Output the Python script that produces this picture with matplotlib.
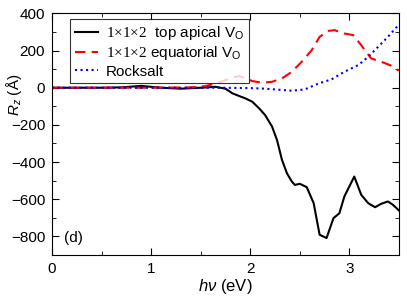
"""
Rz spectra for the oxygen-vacancy configurations and rocksalt.
"""

import matplotlib
matplotlib.use("Agg")
import matplotlib.pyplot as plt
from matplotlib.ticker import MultipleLocator

plt.rcParams["font.family"] = ["Liberation Sans", "DejaVu Sans"]
plt.rcParams["mathtext.fontset"] = "custom"
plt.rcParams["mathtext.rm"] = "Liberation Serif"
plt.rcParams["mathtext.it"] = "Liberation Sans:italic"
plt.rcParams["mathtext.sf"] = "Liberation Sans"

# 1x1x2 top apical V_O
apical_e = [0.0, 0.5, 0.7, 0.9, 1.1, 1.3, 1.5, 1.65, 1.75, 1.82, 1.89, 1.95, 2.02, 2.09,
            2.15, 2.22, 2.27, 2.32, 2.37, 2.42, 2.45, 2.50, 2.57, 2.64, 2.70, 2.77, 2.84,
            2.90, 2.95, 3.05, 3.12, 3.19, 3.26, 3.32, 3.39, 3.44, 3.50]
apical_r = [0, 0, 2, 10, 0, -5, 0, 5, -5, -30, -45, -57, -75, -111,
            -147, -209, -281, -388, -460, -505, -523, -517, -535, -621, -791, -809, -702,
            -675, -585, -478, -576, -621, -643, -625, -612, -630, -660]

# 1x1x2 equatorial V_O
equat_e = [0.0, 1.0, 1.4, 1.55, 1.65, 1.75, 1.82, 1.89, 1.95, 2.02, 2.12, 2.22, 2.32,
           2.42, 2.52, 2.62, 2.70, 2.79, 2.85, 2.95, 3.04, 3.12, 3.22, 3.32, 3.41, 3.50]
equat_r = [0, 0, 2, 9, 23, 41, 55, 63, 50, 36, 27, 32, 50,
           86, 140, 202, 274, 306, 310, 292, 283, 229, 158, 140, 122, 92]

# Rocksalt
rock_e = [0.0, 1.0, 1.7, 2.0, 2.15, 2.42, 2.55, 2.69, 2.82, 2.95, 3.09, 3.19, 3.29, 3.39, 3.50]
rock_r = [0, 0, 0, -2, -5, -16, -9, 23, 45, 86, 122, 166, 220, 274, 340]


def main():
    fig = plt.figure(figsize=(4.07, 3.05), dpi=100)
    ax = fig.add_axes([0.128, 0.164, 0.852, 0.792])

    ax.plot(apical_e, apical_r, "-", color="k", lw=1.5,
            label=r"$1{\times}1{\times}2$  top apical V$_\mathsf{O}$")
    ax.plot(equat_e, equat_r, "--", color="#ff0000", lw=1.5, dashes=(5, 3),
            label=r"$1{\times}1{\times}2$ equatorial V$_\mathsf{O}$")
    ax.plot(rock_e, rock_r, ":", color="#0000ff", lw=1.5, label="Rocksalt")

    ax.set_xlim(0, 3.5)
    ax.set_ylim(-900, 400)
    ax.xaxis.set_major_locator(MultipleLocator(1))
    ax.xaxis.set_minor_locator(MultipleLocator(0.5))
    ax.yaxis.set_major_locator(MultipleLocator(200))
    ax.yaxis.set_minor_locator(MultipleLocator(100))
    ax.tick_params(which="both", direction="in", top=True, right=True, labelsize=11)
    ax.tick_params(which="major", length=5, pad=5)
    ax.tick_params(which="minor", length=3)

    ax.set_xlabel(r"$h\nu$ (eV)", fontsize=12, labelpad=1)
    ax.set_ylabel(r"$R_z$ (Å)", fontsize=11)
    # the label sits up in the gap between the 0 and -200 tick labels
    ax.yaxis.set_label_coords(-0.082, 0.665)

    ax.text(0.12, -810, "(d)", fontsize=11, va="center")

    leg = ax.legend(loc="upper left", bbox_to_anchor=(0.052, 0.975), fontsize=11,
                    frameon=True, fancybox=False, edgecolor="k", handlelength=1.5,
                    borderpad=0.3, labelspacing=0.15, handletextpad=0.55, borderaxespad=0)
    leg.get_frame().set_linewidth(0.8)

    fig.savefig("out.png", dpi=100)
    plt.close(fig)


if __name__ == "__main__":
    main()
